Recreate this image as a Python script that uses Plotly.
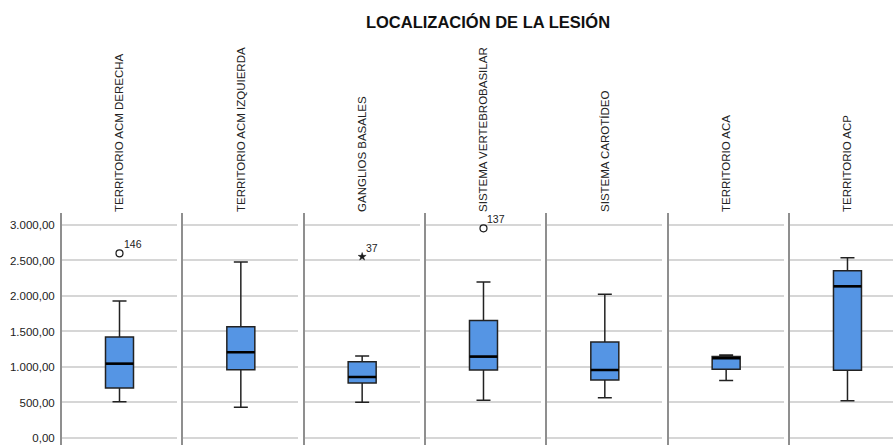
import plotly.graph_objects as go
from plotly.subplots import make_subplots

# Lesion location groups and their box-plot summaries
categories = [
    "TERRITORIO ACM DERECHA",
    "TERRITORIO ACM IZQUIERDA",
    "GANGLIOS BASALES",
    "SISTEMA VERTEBROBASILAR",
    "SISTEMA CAROTÍDEO",
    "TERRITORIO ACA",
    "TERRITORIO ACP",
]
lower_whisker = [511, 432, 502, 531, 568, 808, 526]
q1_values = [704, 962, 775, 958, 817, 967, 953]
median_values = [1047, 1207, 859, 1146, 958, 1122, 2136]
q3_values = [1422, 1568, 1075, 1653, 1352, 1146, 2357]
upper_whisker = [1930, 2479, 1155, 2197, 2023, 1169, 2540]

# Outlying cases: (group index, value, case id, symbol)
outlier_group = [0, 2, 3]
outlier_value = [2601, 2554, 2953]
outlier_case = ["146", "37", "137"]
outlier_symbol = ["circle-open", "star", "circle-open"]

y_ticks = [0, 500, 1000, 1500, 2000, 2500, 3000]

W, H = 893, 445
LEFT, TOP = 62, 213
PANEL_STEP = 121.33
PANEL_W = 115
BOX_W = 0.487  # in panel units, each panel spans [-1, 1]

n = len(categories)
fig = make_subplots(rows=1, cols=n, shared_yaxes=True)

paper_w = W - LEFT
box_fill = "#5595E4"
ink = "#1a1a1a"

for i, name in enumerate(categories):
    col = i + 1
    fig.add_trace(
        go.Box(
            x=[0],
            q1=[q1_values[i]],
            median=[median_values[i]],
            q3=[q3_values[i]],
            lowerfence=[lower_whisker[i]],
            upperfence=[upper_whisker[i]],
            width=BOX_W,
            whiskerwidth=0.5,
            fillcolor=box_fill,
            line=dict(color="#222222", width=1.5),
            boxpoints=False,
            showlegend=False,
            hoverinfo="skip",
        ),
        row=1, col=col,
    )
    # heavier median bar drawn over the box
    fig.add_trace(
        go.Scatter(
            x=[-BOX_W / 2, BOX_W / 2],
            y=[median_values[i], median_values[i]],
            mode="lines",
            line=dict(color="#000000", width=2.6),
            showlegend=False,
            hoverinfo="skip",
        ),
        row=1, col=col,
    )

for g, v, case, sym in zip(outlier_group, outlier_value, outlier_case, outlier_symbol):
    is_star = sym == "star"
    fig.add_trace(
        go.Scatter(
            x=[0], y=[v],
            mode="markers",
            marker=dict(symbol=sym, size=6 if is_star else 7,
                        color=ink, line=dict(color=ink, width=0.5 if is_star else 1.2)),
            showlegend=False,
            hoverinfo="skip",
        ),
        row=1, col=g + 1,
    )
    xref = "x" if g == 0 else f"x{g + 1}"
    fig.add_annotation(
        x=0, y=v, xref=xref, yref="y",
        text=case, showarrow=False,
        xanchor="left", yanchor="bottom",
        xshift=2, yshift=1,
        font=dict(family="Liberation Sans, Arial", size=10.5, color="#222222"),
    )

# panel layout: each group in its own column with a divider on its left
for i in range(n):
    left_px = PANEL_STEP * i
    right_px = min(left_px + PANEL_W, paper_w)
    span_units = (right_px - left_px) * 2 / PANEL_W
    key = "xaxis" if i == 0 else f"xaxis{i + 1}"
    fig.layout[key].update(
        domain=[left_px / paper_w, right_px / paper_w],
        range=[-1, -1 + span_units],
        side="top",
        tickvals=[0],
        ticktext=[categories[i]],
        tickangle=-90,
        ticks="",
        showgrid=False,
        zeroline=False,
        showline=False,
        tickfont=dict(family="Liberation Sans, Arial", size=11.5, color="#222222"),
        fixedrange=True,
    )
    ykey = "yaxis" if i == 0 else f"yaxis{i + 1}"
    fig.layout[ykey].update(
        range=[-99, 3169],
        tickvals=y_ticks,
        tickformat=",.2f",
        showgrid=True,
        gridcolor="#d6d6d6",
        gridwidth=1.5,
        zeroline=False,
        showline=True,
        linecolor="#8f8f8f",
        linewidth=2,
        ticks="",
        showticklabels=(i == 0),
        tickfont=dict(family="Liberation Sans, Arial", size=11.5, color="#222222"),
        ticklabelstandoff=3,
    )

fig.update_layout(
    width=W, height=H,
    margin=dict(l=LEFT, r=0, t=TOP, b=0),
    paper_bgcolor="white",
    plot_bgcolor="white",
    separators=",.",
    title=dict(
        text="<b>LOCALIZACIÓN DE LA LESIÓN</b>",
        x=(488) / W, xanchor="center",
        y=1 - 22 / H, yanchor="middle",
        font=dict(family="Liberation Sans, Arial", size=16.5, color="#111111"),
    ),
)

fig.write_html("out.html")
